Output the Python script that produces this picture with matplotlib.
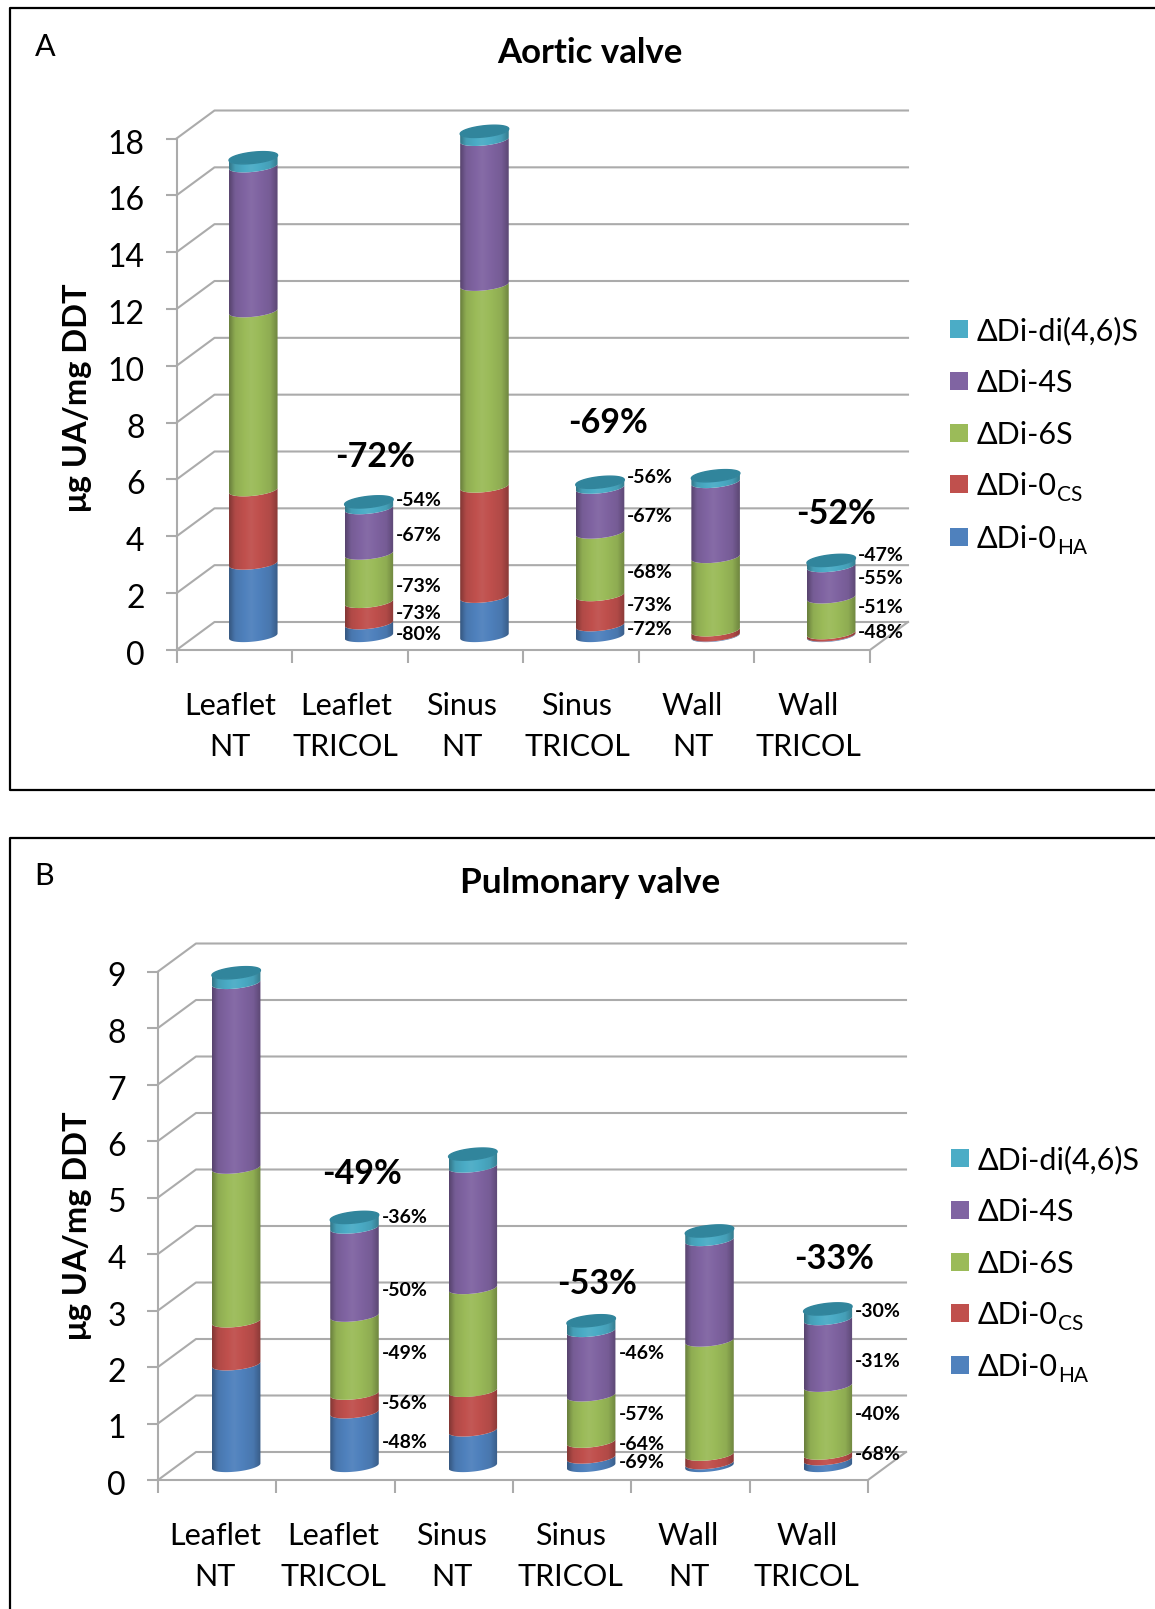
import numpy as np
import matplotlib
matplotlib.use('Agg')
import matplotlib.pyplot as plt
from matplotlib.patches import Rectangle, Polygon
from matplotlib.lines import Line2D
from matplotlib.transforms import ScaledTranslation

plt.rcParams['font.family'] = ['Lato', 'DejaVu Sans']

W, H = 1155, 1609

categories = ['Leaflet\nNT', 'Leaflet\nTRICOL', 'Sinus\nNT', 'Sinus\nTRICOL', 'Wall\nNT', 'Wall\nTRICOL']
series_names = ['ΔDi-di(4,6)S', 'ΔDi-4S', 'ΔDi-6S', 'ΔDi-0', 'ΔDi-0']
series_subs = ['', '', '', 'CS', 'HA']
colors = ['#4BACC6', '#8064A2', '#9BBB59', '#C0504D', '#4F81BD']

# panel A, stacked from the bottom
a_ha = [2.55, 0.45, 1.38, 0.38, 0.02, 0.02]
a_cs = [2.58, 0.75, 3.88, 1.06, 0.18, 0.08]
a_6s = [6.30, 1.70, 7.10, 2.20, 2.58, 1.26]
a_4s = [5.10, 1.60, 5.10, 1.58, 2.64, 1.10]
a_di = [0.30, 0.22, 0.30, 0.19, 0.22, 0.20]

# panel B
b_ha = [1.80, 0.95, 0.63, 0.15, 0.05, 0.12]
b_cs = [0.76, 0.33, 0.70, 0.28, 0.15, 0.10]
b_6s = [2.72, 1.38, 1.82, 0.82, 2.02, 1.20]
b_4s = [3.27, 1.56, 2.15, 1.14, 1.78, 1.18]
b_di = [0.18, 0.18, 0.22, 0.18, 0.16, 0.18]

# small percent labels: bar index, text, height on the axis
a_small_bar = [1, 1, 1, 1, 1, 3, 3, 3, 3, 3, 5, 5, 5, 5]
a_small_txt = ['-54%', '-67%', '-73%', '-73%', '-80%', '-56%', '-67%', '-68%', '-73%', '-72%', '-47%', '-55%', '-51%', '-48%']
a_small_y = [5.27, 4.04, 2.24, 1.30, 0.54, 6.06, 4.69, 2.74, 1.55, 0.72, 3.32, 2.53, 1.48, 0.61]
b_small_bar = [1, 1, 1, 1, 1, 3, 3, 3, 3, 5, 5, 5, 5]
b_small_txt = ['-36%', '-50%', '-49%', '-56%', '-48%', '-46%', '-57%', '-64%', '-69%', '-30%', '-31%', '-40%', '-68%']
b_small_y = [4.65, 3.35, 2.24, 1.35, 0.67, 2.24, 1.16, 0.62, 0.31, 2.98, 2.09, 1.16, 0.45]

a_big_txt = ['-72%', '-69%', '-52%']
a_big_x = [1.72, 3.73, 5.71]
a_big_y = [6.80, 8.00, 4.80]
b_big_txt = ['-49%', '-53%', '-33%']
b_big_x = [1.72, 3.71, 5.71]
b_big_y = [5.42, 3.47, 3.91]


def shade(col, f):
    rgb = np.array(matplotlib.colors.to_rgb(col))
    if f <= 1:
        return rgb * f
    return rgb + (1 - rgb) * (f - 1)


def arc(cx, cy, a, b, tilt):
    t = np.linspace(np.pi, 2 * np.pi, 40)
    return cx + a * np.cos(t), cy + b * np.sin(t) + tilt * np.cos(t)


def draw_chart(box, ymax, step, series, small, big, bar_w, lab_shift):
    left, right, top, bottom = box
    ax = fig.add_axes([left / W, 1 - bottom / H, (right - left) / W, (bottom - top) / H])
    ax.set_xlim(0, 6)
    ax.set_ylim(0, ymax)
    for s in ax.spines.values():
        s.set_visible(False)
    ax.patch.set_alpha(0)

    # depth of the fake 3d box, in data units
    dx = 38 / ((right - left) / 6)
    dy = 28 / ((bottom - top) / ymax)
    grey = '#ABABAB'

    ticks = np.arange(0, ymax + 1, step)
    for v in ticks:
        ax.plot([0, dx, 6 + dx], [v, v + dy, v + dy], color=grey, lw=1.5, clip_on=False, zorder=1)
    ax.plot([0, 0], [0, ymax], color=grey, lw=1.5, zorder=1, clip_on=False)
    ax.plot([0, 6, 6 + dx], [0, 0, dy], color=grey, lw=1.5, zorder=1, clip_on=False)

    ax.set_xticks(np.arange(7))
    ax.set_xticklabels([])
    ax.set_xticks(np.arange(6) + 0.5, categories, minor=True)
    ax.set_yticks(ticks)
    ax.tick_params(axis='x', which='major', length=9, width=1.5, color=grey)
    ax.tick_params(axis='x', which='minor', length=0, pad=30, labelsize=22)
    ax.tick_params(axis='y', length=8, width=1.5, color=grey, pad=15, labelsize=23)
    xoff = ScaledTranslation(lab_shift / 100, 0, fig.dpi_scale_trans)
    for lab in ax.get_xminorticklabels():
        lab.set_linespacing(1.57)
        lab.set_transform(lab.get_transform() + xoff)
    yoff = ScaledTranslation(0, -3 / 100, fig.dpi_scale_trans)
    for lab in ax.get_yticklabels():
        lab.set_transform(lab.get_transform() + yoff)

    # cylinders
    hw = bar_w / 2
    b = dy * 0.2
    tilt = dy * 0.09
    for i in range(6):
        cx = i + 0.5 + dx / 2
        v0 = dy / 2
        for vals, col in zip(series, colors[::-1]):
            v1 = v0 + vals[i]
            xa, ya = arc(cx, v0, hw, b, tilt)
            xb, yb = arc(cx, v1, hw, b, tilt)
            verts = np.vstack([np.c_[xa, ya], np.c_[xb, yb][::-1], [[xa[0], ya[0]]]])
            clip = Polygon(verts, closed=True, transform=ax.transData, fc='none', ec='none')
            pos = np.linspace(0, 1, 64)
            f = np.interp(pos, [0, 0.12, 0.45, 0.85, 1], [0.68, 0.92, 1.05, 0.92, 0.72])
            img = np.array([[shade(col, k) for k in f]])
            im = ax.imshow(img, extent=[cx - hw, cx + hw, v0 - 2 * b, v1 + 2 * b], aspect='auto',
                           interpolation='bilinear', zorder=3)
            ax.add_patch(clip)
            im.set_clip_box(fig.bbox)
            im.set_clip_path(clip)
            v0 = v1
        t = np.linspace(0, 2 * np.pi, 80)
        ax.fill(cx + hw * np.cos(t), v0 + b * np.sin(t) + tilt * np.cos(t), color='#31859C', zorder=4, clip_on=False)
    ax.set_xlim(0, 6)
    ax.set_ylim(0, ymax)

    for i, txt, y in zip(*small):
        ax.text(i + 0.5 + dx / 2 + hw + 0.025, y, txt, fontsize=14, fontweight='bold', va='center', ha='left', zorder=6)
    for txt, x, y in zip(*big):
        ax.text(x, y, txt, fontsize=24.5, fontweight='bold', ha='center', va='center', zorder=6)
    return ax


def legend(x, ys):
    for name, sub, col, y in zip(series_names, series_subs, colors, ys):
        fig.add_artist(Rectangle((x / W, 1 - (y + 9) / H), 18 / W, 18 / H, transform=fig.transFigure, fc=col, ec='none'))
        t = fig.text((x + 27) / W, 1 - (y + 2) / H, name, fontsize=22, va='center', ha='left')
        if sub:
            fig.add_artist(matplotlib.text.Annotation(sub, xy=(1, 0), xycoords=t, xytext=(0, 11),
                                                      textcoords='offset points', fontsize=15, va='top', ha='left'))


fig = plt.figure(figsize=(W / 100, H / 100), dpi=100)

# panel frames, they run off the image on the right
for pts in [[(W, 8), (10, 8), (10, 790), (W, 790)], [(W, 838), (10, 838), (10, H)]]:
    xs = [p[0] / W for p in pts]
    ys = [1 - p[1] / H for p in pts]
    fig.add_artist(Line2D(xs, ys, color='black', lw=1.6))

draw_chart((176.5, 870, 138.5, 650), 18, 2, [a_ha, a_cs, a_6s, a_4s, a_di],
           (a_small_bar, a_small_txt, a_small_y), (a_big_txt, a_big_x, a_big_y), 0.42, -4)
draw_chart((158, 868, 971.5, 1480), 9, 1, [b_ha, b_cs, b_6s, b_4s, b_di],
           (b_small_bar, b_small_txt, b_small_y), (b_big_txt, b_big_x, b_big_y), 0.41, -2)

fig.text(35 / W, 1 - 47 / H, 'A', fontsize=22, va='center')
fig.text(34 / W, 1 - 876 / H, 'B', fontsize=22, va='center')
fig.text(590 / W, 1 - 53 / H, 'Aortic valve', fontsize=25, fontweight='bold', ha='center', va='center')
fig.text(590 / W, 1 - 883 / H, 'Pulmonary valve', fontsize=25.3, fontweight='bold', ha='center', va='center')
fig.text(77 / W, 1 - 398 / H, 'μg UA/mg DDT', fontsize=23.5, fontweight='bold', rotation=90, ha='center', va='center')
fig.text(78 / W, 1 - 1226 / H, 'μg UA/mg DDT', fontsize=23.5, fontweight='bold', rotation=90, ha='center', va='center')

legend(950, [329, 381, 433, 484, 537])
legend(951, [1158, 1210, 1262, 1313, 1365])

fig.savefig('out.png', dpi=100)
